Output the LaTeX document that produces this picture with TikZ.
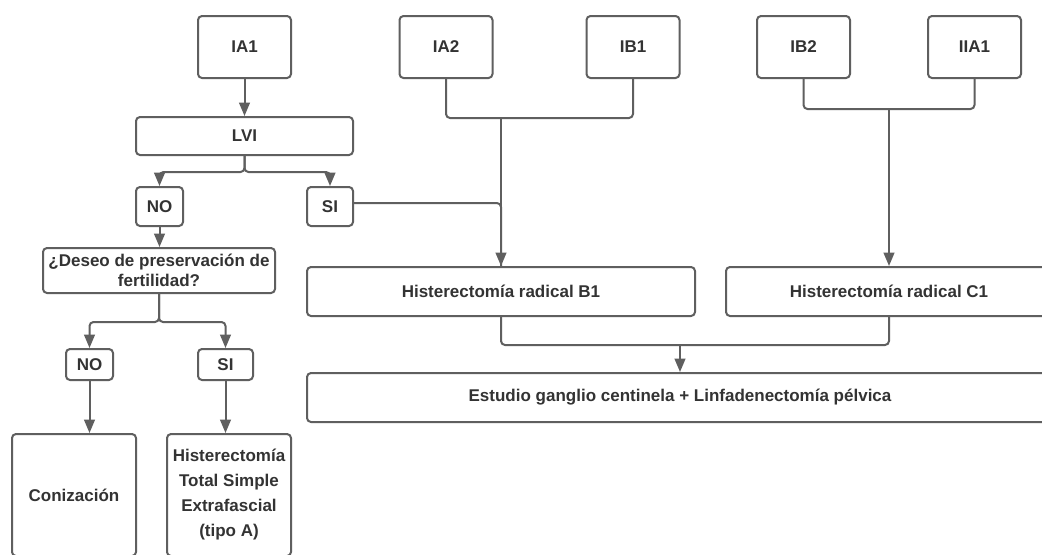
\documentclass[tikz,border=0pt]{standalone}
\usepackage{fontspec}
\setmainfont{Liberation Sans}
\usetikzlibrary{arrows.meta}
\definecolor{linea}{HTML}{5F5F5F}
\definecolor{texto}{HTML}{333333}
\tikzset{
  caja/.style={draw=linea,line width=1.5pt,rounded corners=3pt,fill=white,text=texto,
    font=\bfseries\fontsize{12.75}{15}\selectfont,inner sep=0pt,align=center},
  union/.style={draw=linea,line width=1.5pt,rounded corners=3pt},
  flecha/.style={union,-{Triangle[length=10pt,width=8pt]}}
}
\begin{document}
\begin{tikzpicture}[x=0.75pt,y=-0.75pt]
            \useasboundingbox (0,0) rectangle (1042,554);
            \fill[white] (0,0) rectangle (1042,554);
            \clip (0,0) rectangle (1042,554);
            % estadios
            \foreach \n/\x/\t in {ia1/244.5/IA1,ia2/446/IA2,ib1/633/IB1,ib2/803.5/IB2,iia1/974.5/IIA1}
            {
                \node[caja,minimum width=69.75pt,minimum height=46.5pt] (\n) at (\x,47) {\t};
            }
            \node[caja,minimum width=162.75pt,minimum height=28.5pt] (lvi) at (244.5,136) {LVI};
            \node[caja,minimum width=35.25pt,minimum height=29.25pt] (no1) at (159.5,206.5) {NO};
            \node[caja,minimum width=34.5pt,minimum height=29.25pt] (si1) at (330,206.5) {SI};
            \node[caja,minimum width=174pt,minimum height=33.75pt] (deseo) at (159,270.5) {¿Deseo de preservación de\\fertilidad?};
            \node[caja,minimum width=35.25pt,minimum height=23.25pt] (no2) at (89.5,364.5) {NO};
            \node[caja,minimum width=41.25pt,minimum height=23.25pt] (si2) at (225.5,364.5) {SI};
            \node[caja,minimum width=93pt,minimum height=91.5pt] (coni) at (74,495) {Conización};
            \node[caja,minimum width=93pt,minimum height=91.5pt,
                font=\bfseries\fontsize{12.75}{18.75}\selectfont] (hist) at (229,495)
                {Histerectomía\\Total Simple\\Extrafascial\\(tipo A)};
            \node[caja,minimum width=291pt,minimum height=36.75pt] (b1) at (501,291.5) {Histerectomía radical B1};
            \node[caja,minimum width=244.5pt,minimum height=36.75pt] (c1) at (889,291.5) {Histerectomía radical C1};
            \node[caja,minimum width=559.5pt,minimum height=36.75pt] (est) at (680,397.5) {Estudio ganglio centinela + Linfadenectomía pélvica};
            \coordinate (jab) at (501,117);
            \coordinate (jcd) at (889,108);
            \coordinate (jbc) at (680,344);
            % rama izquierda
            \draw[flecha] (ia1) -- (lvi);
            \draw[flecha] (lvi.south) -- ++(0,16) -| (no1.north);
            \draw[flecha] (lvi.south) -- ++(0,16) -| (si1.north);
            \draw[flecha] (no1.south) -- (no1.south |- deseo.north);
            \draw[flecha] (deseo.south) -- ++(0,28) -| (no2.north);
            \draw[flecha] (deseo.south) -- ++(0,28) -| (si2.north);
            \draw[flecha] (no2.south) -- (no2.south |- coni.north);
            \draw[flecha] (si2.south) -- (si2.south |- hist.north);
            % rama derecha
            \draw[union] (ia2.south) -- ++(0,39) -| (ib1.south);
            \draw[union] (ib2.south) -- ++(0,30) -| (iia1.south);
            \draw[union] ([yshift=2.6pt]si1.east) -| (b1.north);
            \draw[flecha] (jab) -- (b1.north);
            \draw[flecha] (jcd) -- (c1.north);
            \draw[union] (b1.south) -- ++(0,28) -| (c1.south);
            \draw[flecha] (jbc) -- (est.north);
\end{tikzpicture}
\end{document}
